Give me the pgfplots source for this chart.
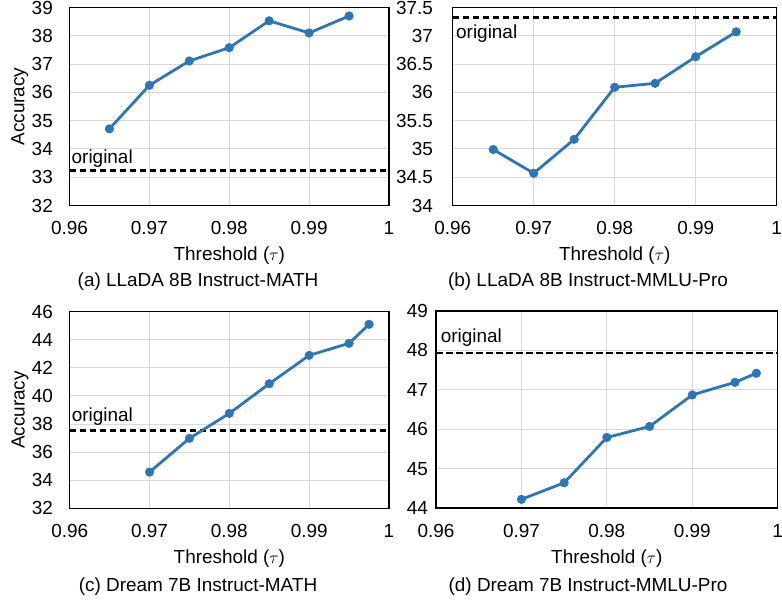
\documentclass[border=0pt]{standalone}
\usepackage{pgfplots}
\pgfplotsset{compat=1.18}
\usepackage{fontspec}
\setmainfont{Liberation Sans}
\definecolor{lineblue}{RGB}{46,117,182}
\definecolor{gridgray}{RGB}{217,217,217}
\pgfplotsset{
 panel/.style={
  scale only axis,
  anchor=south west,
  xmin=0.96,xmax=1,
  xtick={0.96,0.97,0.98,0.99,1},
  xticklabels={0.96,0.97,0.98,0.99,1},
  grid=major,
  major grid style={gridgray,line width=1bp},
  axis line style={black,line width=1.4bp},
  major tick length=0pt,
  /pgf/number format/assume math mode=true,
  font=\fontsize{19}{22}\selectfont,
  xticklabel style={anchor=base,inner sep=0pt,yshift=-29.5bp},
  yticklabel style={anchor=east,inner sep=0pt},
  xlabel={Threshold ($\tau$)},
  xlabel style={at={(axis description cs:0.5,0)},anchor=base,inner sep=0pt,yshift=-55bp},
  ylabel style={at={(axis description cs:-0.1557,0.5)},anchor=center,rotate=0},
  clip=false,
 },
 series/.style={lineblue,line width=2.8bp,mark=*,mark size=4.3bp,mark options={solid,fill=lineblue,draw=lineblue,line width=0.5bp}},
 orig/.style={black,line width=2.6bp,dash pattern=on 6.5bp off 3.5bp},
}
\begin{document}
\begin{tikzpicture}[font=\fontsize{19}{22}\selectfont]
\path[use as bounding box] (0bp,0bp) rectangle (782bp,603bp);

% (a)
\begin{axis}[panel, at={(69.5bp,397.5bp)}, width=319.5bp, height=198bp,
  ymin=32, ymax=39, ytick={32,33,34,35,36,37,38,39},
  yticklabel style={xshift=-16.5bp},
  ylabel={Accuracy}]
\addplot[orig] coordinates {(0.96,33.23) (1,33.23)};
\addplot[series] coordinates {(0.965,34.71) (0.97,36.25) (0.975,37.11) (0.98,37.58) (0.985,38.53) (0.99,38.10) (0.995,38.70)};
\node[anchor=base west,inner sep=0pt,xshift=2bp,yshift=7.5bp] at (axis cs:0.96,33.23) {original};
\end{axis}

% (b)
\begin{axis}[panel, at={(452.7bp,397.5bp)}, width=324bp, height=198bp,
  ymin=34, ymax=37.5, ytick={34,34.5,35,35.5,36,36.5,37,37.5},
  yticklabels={34,34.5,35,35.5,36,36.5,37,37.5},
  yticklabel style={xshift=-19.5bp}]
\addplot[orig] coordinates {(0.96,37.32) (1,37.32)};
\addplot[series] coordinates {(0.965,34.99) (0.97,34.57) (0.975,35.17) (0.98,36.09) (0.985,36.16) (0.99,36.63) (0.995,37.07)};
\node[anchor=base west,inner sep=0pt,xshift=3.3bp,yshift=-20.4bp] at (axis cs:0.96,37.32) {original};
\end{axis}

% (c)
\begin{axis}[panel, at={(69.7bp,94.7bp)}, width=319.3bp, height=196.6bp,
  ymin=32, ymax=46, ytick={32,34,36,38,40,42,44,46},
  yticklabel style={xshift=-16.5bp},
  ylabel={Accuracy}]
\addplot[orig] coordinates {(0.96,37.55) (1,37.55)};
\addplot[series] coordinates {(0.97,34.58) (0.975,36.98) (0.98,38.76) (0.985,40.87) (0.99,42.89) (0.995,43.75) (0.9975,45.10)};
\node[anchor=base west,inner sep=0pt,xshift=2bp,yshift=8.7bp] at (axis cs:0.96,37.55) {original};
\end{axis}

% (d)
\begin{axis}[panel, at={(436bp,95bp)}, width=341.7bp, height=197bp,
  ymin=44, ymax=49, ytick={44,45,46,47,48,49},
  yticklabel style={xshift=-8bp}]
\addplot[orig] coordinates {(0.96,47.93) (1,47.93)};
\addplot[series] coordinates {(0.97,44.22) (0.975,44.64) (0.98,45.79) (0.985,46.07) (0.99,46.87) (0.995,47.19) (0.9975,47.42)};
\node[anchor=base west,inner sep=0pt,xshift=4.7bp,yshift=10.7bp] at (axis cs:0.96,47.93) {original};
\end{axis}

\node[anchor=base,inner sep=0pt] at (198bp,316.5bp) {(a) LLaDA 8B Instruct-MATH};
\node[anchor=base,inner sep=0pt] at (588bp,316.5bp) {(b) LLaDA 8B Instruct-MMLU-Pro};
\node[anchor=base,inner sep=0pt] at (198bp,11.3bp) {(c) Dream 7B Instruct-MATH};
\node[anchor=base,inner sep=0pt] at (588bp,11.3bp) {(d) Dream 7B Instruct-MMLU-Pro};
\end{tikzpicture}
\end{document}
